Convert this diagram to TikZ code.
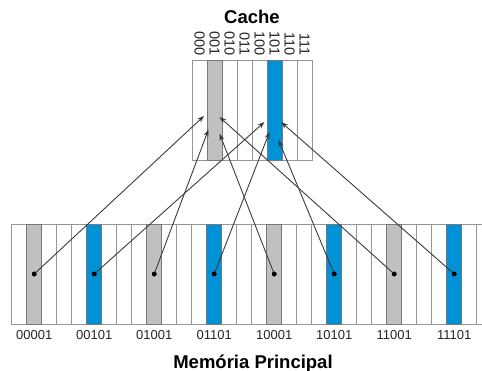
\documentclass[tikz,border=0pt]{standalone}
\usepackage{fontspec}
\setmainfont{Liberation Sans}
\usetikzlibrary{arrows.meta}
\definecolor{cellgray}{RGB}{192,192,192}
\definecolor{cellblue}{RGB}{0,146,214}
\definecolor{edgegray}{RGB}{150,150,150}
\definecolor{darkedge}{RGB}{120,120,120}
\definecolor{linegray}{RGB}{60,60,60}
\begin{document}
\begin{tikzpicture}[x=1pt,y=-1pt,
  cell/.style={draw=edgegray, line width=0.9pt, fill=white},
  graycell/.style={draw=darkedge, line width=0.9pt, fill=cellgray},
  bluecell/.style={draw=darkedge, line width=0.9pt, fill=cellblue},
  memlabel/.style={font=\fontsize{13}{15}\selectfont, text=black!85, inner sep=0pt},
  cachelabel/.style={font=\fontsize{14.5}{16}\selectfont, text=black!85, inner sep=0pt, rotate=-90, anchor=east},
  titlelabel/.style={font=\fontsize{18.5}{20}\selectfont\bfseries, inner sep=0pt, anchor=base},
  dotnode/.style={circle, fill=black, inner sep=0pt, minimum size=4.6pt},
  arrowline/.style={draw=linegray, line width=0.9pt, -{Stealth[length=7pt,width=5pt]}}
]
\useasboundingbox (0,0) rectangle (482,371);

% memory columns
\foreach \i in {0,...,31}
  \draw[cell] ({11.7+15*\i},224) rectangle ++(15,100);
\foreach \i in {1,9,17,25}
  \draw[graycell] ({11.7+15*\i},224) rectangle ++(15,100);
\foreach \i in {5,13,21,29}
  \draw[bluecell] ({11.7+15*\i},224) rectangle ++(15,100);

% cache columns
\foreach \k in {0,...,7}
  \draw[cell] ({192+15*\k},60) rectangle ++(15,100);
\draw[graycell] (207,60) rectangle ++(15,100);
\draw[bluecell] (267,60) rectangle ++(15,100);

% cache labels
\foreach \k/\t in {0/000,1/001,2/010,3/011,4/100,5/101,6/110,7/111}
  \node[cachelabel] (c\t) at ({192+15*\k+7.5},56) {\t};

% titles
\node[titlelabel] (cachetitle) at (252,24) {Cache};
\node[titlelabel] (memtitle) at (253,368.5) {Memória Principal};

% memory labels and dots
\foreach \i/\t in {1/00001,5/00101,9/01001,13/01101,17/10001,21/10101,25/11001,29/11101}{
  \node[memlabel] (l\t) at ({11.7+15*\i+7.5},335.5) {\t};
  \node[dotnode] (d\t) at ({11.7+15*\i+7.5},274) {};
}

% arrow tips in the cache
\coordinate (g1) at (204,116);
\coordinate (g2) at (208.5,129.5);
\coordinate (g3) at (219.5,133.5);
\coordinate (g4) at (219.5,117);
\coordinate (b1) at (264.5,122);
\coordinate (b2) at (269.5,132);
\coordinate (b3) at (278.5,140);
\coordinate (b4) at (281,122);

\draw[arrowline] (d00001.center) -- (g1);
\draw[arrowline] (d01001.center) -- (g2);
\draw[arrowline] (d10001.center) -- (g3);
\draw[arrowline] (d11001.center) -- (g4);
\draw[arrowline] (d00101.center) -- (b1);
\draw[arrowline] (d01101.center) -- (b2);
\draw[arrowline] (d10101.center) -- (b3);
\draw[arrowline] (d11101.center) -- (b4);

% redraw dots on top
\foreach \t in {00001,00101,01001,01101,10001,10101,11001,11101}
  \fill (d\t) circle (2.4pt);
\end{tikzpicture}
\end{document}
